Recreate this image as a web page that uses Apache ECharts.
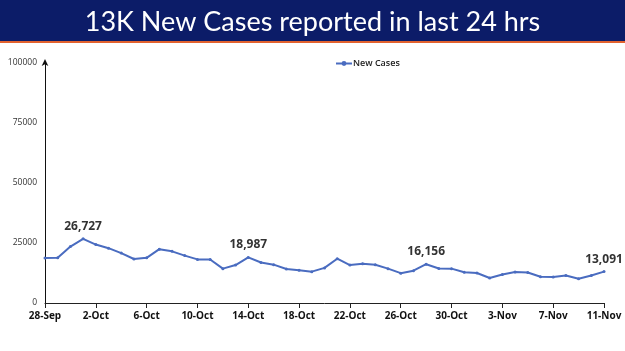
<!DOCTYPE html>
<html>
<head>
<meta charset="utf-8">
<script src="https://cdn.jsdelivr.net/npm/echarts@6/dist/echarts.min.js"></script>
<style>
  html, body { margin: 0; padding: 0; background: #fff; }
  #chart { width: 625px; height: 351px; }
</style>
</head>
<body>
<div id="chart"></div>
<script>
// dates, one per day
const days = [
  '28-Sep', '29-Sep', '30-Sep', '1-Oct', '2-Oct', '3-Oct', '4-Oct', '5-Oct', '6-Oct', '7-Oct',
  '8-Oct', '9-Oct', '10-Oct', '11-Oct', '12-Oct', '13-Oct', '14-Oct', '15-Oct', '16-Oct', '17-Oct',
  '18-Oct', '19-Oct', '20-Oct', '21-Oct', '22-Oct', '23-Oct', '24-Oct', '25-Oct', '26-Oct', '27-Oct',
  '28-Oct', '29-Oct', '30-Oct', '31-Oct', '1-Nov', '2-Nov', '3-Nov', '4-Nov', '5-Nov', '6-Nov',
  '7-Nov', '8-Nov', '9-Nov', '10-Nov', '11-Nov'
]
const newCases = [
  18795, 18870, 23529, 26727, 24354, 22842, 20799, 18346, 18833, 22431,
  21527, 19740, 18166, 18132, 14313, 15823, 18987, 16862, 15981, 14146,
  13596, 13058, 14623, 18454, 15786, 16326, 15906, 14306, 12428, 13451,
  16156, 14348, 14313, 12830, 12514, 10423, 11903, 12885, 12729, 10929,
  10853, 11451, 10126, 11466, 13091
]
// points that carry a value label
const labelled = ['1-Oct', '14-Oct', '28-Oct', '11-Nov']
const yTicks = [0, 25000, 50000, 75000, 100000]

const chart = echarts.init(document.getElementById('chart'))

const option = {
  animation: false,
  graphic: [
    {
      type: 'rect',
      shape: { x: 0, y: 0, width: 625, height: 41 },
      style: { fill: '#0c1c68' }
    },
    {
      type: 'rect',
      shape: { x: 0, y: 41, width: 625, height: 2 },
      style: { fill: '#e2622f' }
    }
  ],
  title: {
    text: '13K New Cases reported in last 24 hrs',
    left: 'center',
    top: 4,
    textStyle: {
      color: '#fff',
      fontFamily: 'Lato',
      fontWeight: 'normal',
      fontSize: 27
    }
  },
  legend: {
    top: 54,
    left: 330,
    itemWidth: 16,
    itemHeight: 6,
    itemGap: 2,
    textStyle: {
      fontFamily: 'Open Sans',
      fontSize: 9,
      fontWeight: 600,
      color: '#222',
      padding: [0, 0, 0, -4]
    },
    data: ['New Cases']
  },
  grid: {
    left: 45,
    right: 21,
    top: 63,
    bottom: 48
  },
  xAxis: {
    type: 'category',
    data: days,
    boundaryGap: false,
    axisLine: { lineStyle: { color: '#222', width: 1 } },
    axisTick: {
      interval: 3,
      length: 5,
      lineStyle: { color: '#222' }
    },
    axisLabel: {
      interval: 3,
      margin: 8,
      color: '#111',
      fontFamily: 'Open Sans',
      fontWeight: 'bold',
      fontSize: 10
    }
  },
  yAxis: {
    type: 'value',
    min: yTicks[0],
    max: yTicks[yTicks.length - 1],
    interval: yTicks[1] - yTicks[0],
    splitLine: { show: false },
    axisTick: { show: false },
    axisLine: {
      show: true,
      symbol: ['none', 'arrow'],
      symbolSize: [5, 7],
      symbolOffset: [0, 4],
      lineStyle: { color: '#111', width: 1 }
    },
    axisLabel: {
      margin: 8,
      color: '#333',
      fontFamily: 'Open Sans',
      fontSize: 8.5,
      formatter: v => String(v)
    }
  },
  series: [
    {
      name: 'New Cases',
      type: 'line',
      data: newCases.map((v, i) => ({
        value: v,
        label: { show: labelled.includes(days[i]) }
      })),
      symbol: 'circle',
      symbolSize: 3,
      color: '#4a6cc0',
      lineStyle: { width: 2, color: '#4a6cc0' },
      itemStyle: { color: '#4a6cc0' },
      label: {
        position: 'top',
        distance: 5,
        color: '#333',
        fontFamily: 'Open Sans',
        fontWeight: 'bold',
        fontSize: 12,
        formatter: p => p.value.toLocaleString('en-US')
      }
    }
  ]
}

chart.setOption(option)
</script>
</body>
</html>
